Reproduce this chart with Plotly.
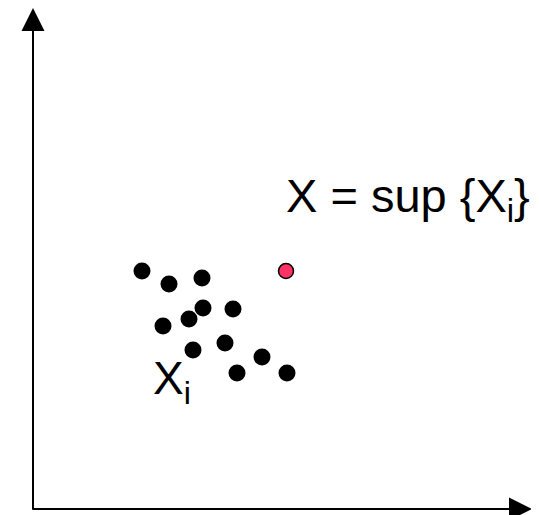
import plotly.graph_objects as go

# Data (axis units: origin at the axis corner)
xi_x = [109, 136, 169, 170, 200, 156, 130, 192, 160, 229, 204, 254]
xi_y = [238, 225, 231, 201, 200, 190, 183, 166, 159, 152, 136, 136]
sup_x = [253]
sup_y = [238]

x_range = [-25, 506]
y_range = [-6, 501]
x_axis_end = 499
y_axis_end = 501

fig = go.Figure()
fig.add_trace(go.Scatter(x=xi_x, y=xi_y, mode="markers",
                         marker=dict(size=17, color="black", line=dict(width=0)),
                         hoverinfo="skip", showlegend=False))
fig.add_trace(go.Scatter(x=sup_x, y=sup_y, mode="markers",
                         marker=dict(size=15, color="#FF3366", line=dict(width=1.5, color="black")),
                         hoverinfo="skip", showlegend=False))

ann = []
# axes with arrows
ann.append(dict(x=x_axis_end, y=0, ax=-2, ay=0, xref="x", yref="y", axref="x", ayref="y",
                showarrow=True, arrowhead=2, arrowsize=2.3, arrowwidth=2, arrowcolor="black",
                standoff=0, text=""))
ann.append(dict(x=0, y=y_axis_end, ax=0, ay=-2, xref="x", yref="y", axref="x", ayref="y",
                showarrow=True, arrowhead=2, arrowsize=2.3, arrowwidth=2, arrowcolor="black",
                standoff=0, text=""))
# labels
ann.append(dict(x=251, y=310, xref="x", yref="y", text="X = sup {X<sub>i</sub>}",
                showarrow=False, xanchor="left", yanchor="middle",
                font=dict(family="Liberation Sans, Arial", size=47, color="black")))
ann.append(dict(x=118, y=128, xref="x", yref="y", text="X<sub>i</sub>",
                showarrow=False, xanchor="left", yanchor="middle",
                font=dict(family="Liberation Sans, Arial", size=46, color="black")))

fig.update_layout(
    width=531, height=507,
    margin=dict(l=0, r=0, t=0, b=0),
    paper_bgcolor="white", plot_bgcolor="white",
    xaxis=dict(range=x_range, visible=False),
    yaxis=dict(range=y_range, visible=False),
    annotations=ann,
)
fig.write_html("out.html")
